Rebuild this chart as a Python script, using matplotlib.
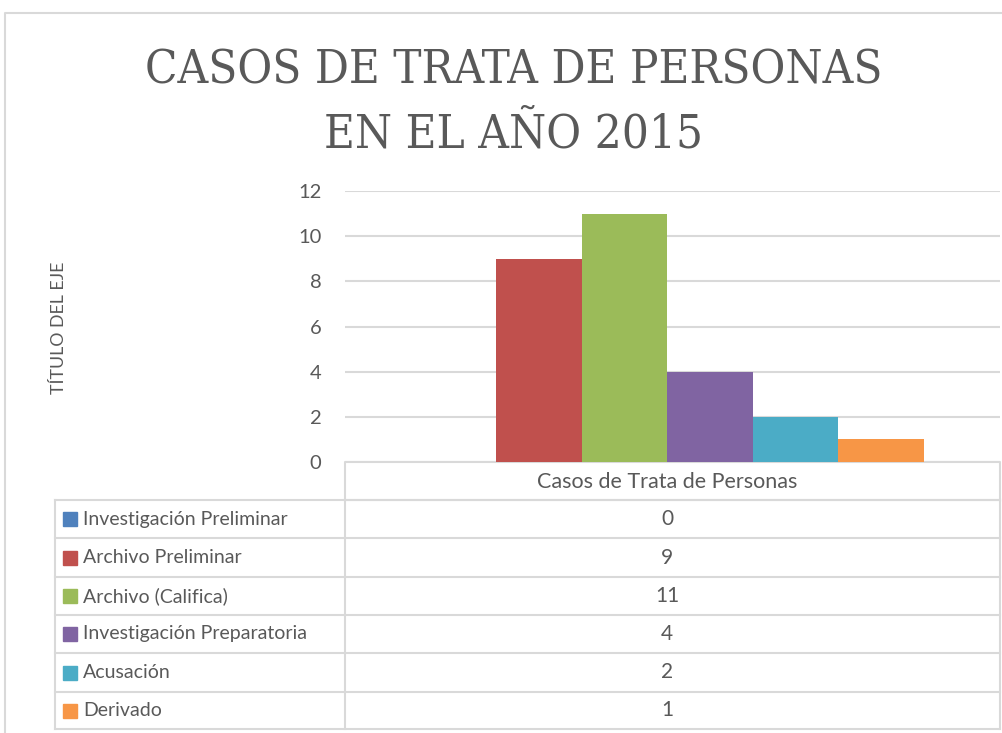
import matplotlib.pyplot as plt
from matplotlib.patches import Rectangle

# Data
series = ["Investigación Preliminar", "Archivo Preliminar", "Archivo (Califica)",
          "Investigación Preparatoria", "Acusación", "Derivado"]
values = [0, 9, 11, 4, 2, 1]
colors = ["#4F81BD", "#C0504D", "#9BBB59", "#8064A2", "#4BACC6", "#F79646"]
category = "Casos de Trata de Personas"
yticks = [0, 2, 4, 6, 8, 10, 12]

W, H = 1003, 733
body = "Lato"
grey = "#595959"
line = "#d9d9d9"

fig = plt.figure(figsize=(W / 100, H / 100), dpi=100)

# overlay in pixel coords (y down) for frame, title and data table
ov = fig.add_axes([0, 0, 1, 1])
ov.set_xlim(0, W)
ov.set_ylim(H, 0)
ov.axis("off")

# chart frame
ov.plot([5, 5, W + 5], [H + 5, 13, 13], color=line, lw=1.5)

# title
title_font = dict(ha="center", va="baseline", fontsize=34, color=grey,
                  family="DejaVu Serif", stretch="condensed")
ov.text(514, 84, "CASOS DE TRATA DE PERSONAS", **title_font)
ov.text(514, 148, "EN EL AÑO 2015", **title_font)

# plot area in pixels
px_l, px_r, px_b, px_t = 345, 1000, 462, 191
ax = fig.add_axes([px_l / W, (H - px_b) / H, (px_r - px_l) / W, (px_b - px_t) / H])
ax.patch.set_alpha(0)

bw = 85.5 / (px_r - px_l)
shift = -5 / (px_r - px_l)
n = len(values)
for i, (v, c) in enumerate(zip(values, colors)):
    ax.bar(shift + (i - (n - 1) / 2) * bw, v, width=bw, color=c, zorder=3)

ax.set_xlim(-0.5, 0.5)
ax.set_ylim(0, 12)
ax.set_yticks(yticks)
ax.set_xticks([])
ax.tick_params(axis="y", length=0, pad=17, labelsize=14.5, labelcolor=grey)
for lab in ax.get_yticklabels():
    lab.set_family(body)
ax.yaxis.grid(True, color=line, lw=1.5, zorder=0)
for s in ax.spines.values():
    s.set_visible(False)

fig.text(59 / W, 1 - 328 / H, "TÍTULO DEL EJE", rotation=90, ha="center", va="center",
         fontsize=12.8, color=grey, family=body)

# data table
row_y = [500, 538, 577, 615, 653, 692, 729]
tl, tm, tr = 55, 345, 1000
ov.plot([tm, tm, tr, tr], [row_y[-1], 462, 462, row_y[-1]], color=line, lw=1.5)
ov.plot([tm, tr], [row_y[0], row_y[0]], color=line, lw=1.5)
ov.text(667, (462 + row_y[0]) / 2 + 1, category, ha="center", va="center",
        fontsize=15.5, color=grey, family=body)
for y in row_y:
    ov.plot([tl, tr], [y, y], color=line, lw=1.5)
ov.plot([tl, tl], [row_y[0], row_y[-1]], color=line, lw=1.5)
for i, (name, v, c) in enumerate(zip(series, values, colors)):
    yc = (row_y[i] + row_y[i + 1]) / 2
    ov.add_patch(Rectangle((63, yc - 7), 14, 14, color=c))
    ov.text(83, yc, name, ha="left", va="center", fontsize=14, color=grey, family=body)
    ov.text(667, yc, str(v), ha="center", va="center", fontsize=15,
            color=grey, family=body)

fig.savefig("out.png", dpi=100)
